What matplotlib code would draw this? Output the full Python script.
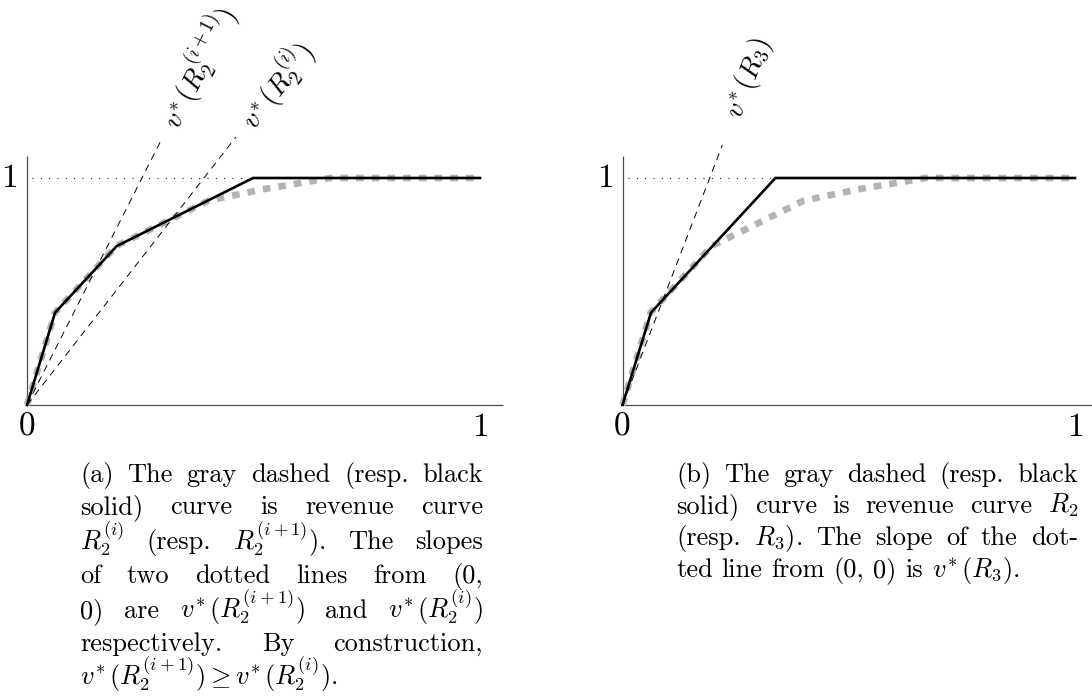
import math
import matplotlib
matplotlib.use("Agg")
import matplotlib.pyplot as plt

plt.rcParams['font.family'] = 'cmr10'
plt.rcParams['mathtext.fontset'] = 'cm'
plt.rcParams['axes.unicode_minus'] = False
plt.rcParams['lines.scale_dashes'] = False

# revenue curves (x = quantile, y = revenue)
r2_x = [0, 0.062, 0.197, 0.296, 0.40, 0.52, 0.67, 1.0]
r2_y = [0, 0.407, 0.70, 0.797, 0.90, 0.95, 1.0, 1.0]
r2_next_x = [0, 0.062, 0.198, 0.499, 1.0]
r2_next_y = [0, 0.407, 0.70, 1.0, 1.0]
r3_x = [0, 0.063, 0.338, 1.0]
r3_y = [0, 0.407, 1.0, 1.0]

# slopes of the lines from the origin, v*(.)
slopes_a = [3.94, 2.56]
line_top_a = [1.16, 1.18]
labels_a = [r"$v^{\!*}(R_2^{(i+1)})$", r"$v^{\!*}(R_2^{(i)})$"]
slopes_b = [5.19]
line_top_b = [1.145]
labels_b = [r"$v^{\!*}(R_3)$"]

caption_a = [
    ["(a)", "The", "gray", "dashed", "(resp.", "black"],
    ["solid)", "curve", "is", "revenue", "curve"],
    [r"$R_2^{(i)}$", "(resp.", r"$R_2^{(i+1)}$).", "The", "slopes"],
    ["of", "two", "dotted", "lines", "from", "(0,"],
    ["0)", "are", r"$v^{\!*}(R_2^{(i+1)})$", "and", r"$v^{\!*}(R_2^{(i)})$"],
    ["respectively.", "By", "construction,"],
    [r"$v^{\!*}(R_2^{(i+1)}) \geq v^{\!*}(R_2^{(i)})$."],
]
caption_b = [
    ["(b)", "The", "gray", "dashed", "(resp.", "black"],
    ["solid)", "curve", "is", "revenue", "curve", r"$R_2$"],
    ["(resp.", r"$R_3$).", "The", "slope", "of", "the", "dot-"],
    ["ted", "line", "from", "(0,", "0)", "is", r"$v^{\!*}(R_3)$."],
]

W, H = 1092, 700
fig = plt.figure(figsize=(W / 100, H / 100), dpi=100)

GRAY = '#b3b3b3'


def panel(rect, xlim, gray, black, slopes, tops, labels, label_gap):
    ax = fig.add_axes(rect)
    ax.set_xlim(*xlim)
    ax.set_ylim(-0.2423, 1.7841)
    ax.axis('off')
    # axes
    ax.plot([0, 1.05], [0, 0], color='0.3', lw=0.9, solid_capstyle='butt', clip_on=False)
    ax.plot([0, 0], [0, 1.097], color='0.3', lw=0.9, solid_capstyle='butt')
    # level y = 1 up to the kink of the black curve
    kink = black[0][black[1].index(1.0)]
    ax.plot([0.012, kink], [1, 1], color='k', lw=0.8, dashes=(0.7, 5.3),
            dash_capstyle='butt')
    ax.plot(gray[0], gray[1], color=GRAY, lw=4.8, dashes=(5.5, 5.8),
            dash_capstyle='butt', solid_joinstyle='miter')
    ax.plot(black[0], black[1], color='k', lw=1.9, solid_joinstyle='miter')
    for s, top, lab, gap in zip(slopes, tops, labels, label_gap):
        ax.plot([0, top / s], [0, top], color='k', lw=0.7, dashes=(5.0, 4.0))
        p0 = ax.transData.transform((0, 0))
        p1 = ax.transData.transform((1, s))
        ang = math.degrees(math.atan2(p1[1] - p0[1], p1[0] - p0[0]))
        yl = top + gap
        ax.text(yl / s, yl, lab, rotation=ang, rotation_mode='anchor',
                ha='left', va='center', fontsize=20)
    # tick labels
    ax.annotate("0", (0, 0), xytext=(0, -16), textcoords='offset points',
                ha='center', va='center', fontsize=24)
    ax.annotate("1", (1, 0), xytext=(0, -16), textcoords='offset points',
                ha='center', va='center', fontsize=24)
    ax.annotate("1", (0, 1), xytext=(-6.3, 0), textcoords='offset points',
                ha='right', va='center', fontsize=24)
    return ax


panel([0, 240 / 700, 0.5, 460 / 700], (-0.0596, 1.1457),
      (r2_x, r2_y), (r2_next_x, r2_next_y), slopes_a, line_top_a, labels_a,
      [0.07, 0.055])
panel([0.5, 240 / 700, 0.5, 460 / 700], (-0.1691, 1.0376),
      (r2_x, r2_y), (r3_x, r3_y), slopes_b, line_top_b, labels_b, [0.125])

renderer = fig.canvas.get_renderer()


def caption(lines, left, right, baselines, size=19):
    space = 8.8
    for k, (words, base) in enumerate(zip(lines, baselines)):
        texts = [fig.text(0, 1 - base / H, w, fontsize=size, ha='left', va='baseline')
                 for w in words]
        widths = [t.get_window_extent(renderer).width for t in texts]
        last = k == len(lines) - 1
        if last or len(words) == 1:
            gap = space
        else:
            gap = (right - left - sum(widths)) / (len(words) - 1)
        x = left
        for t, w in zip(texts, widths):
            t.set_x(x / W)
            x += w + gap


caption(caption_a, 80, 483, [482, 514, 549, 583, 618, 651, 685])
caption(caption_b, 676, 1078, [482, 513, 545, 577])

fig.savefig("out.png", dpi=100)
